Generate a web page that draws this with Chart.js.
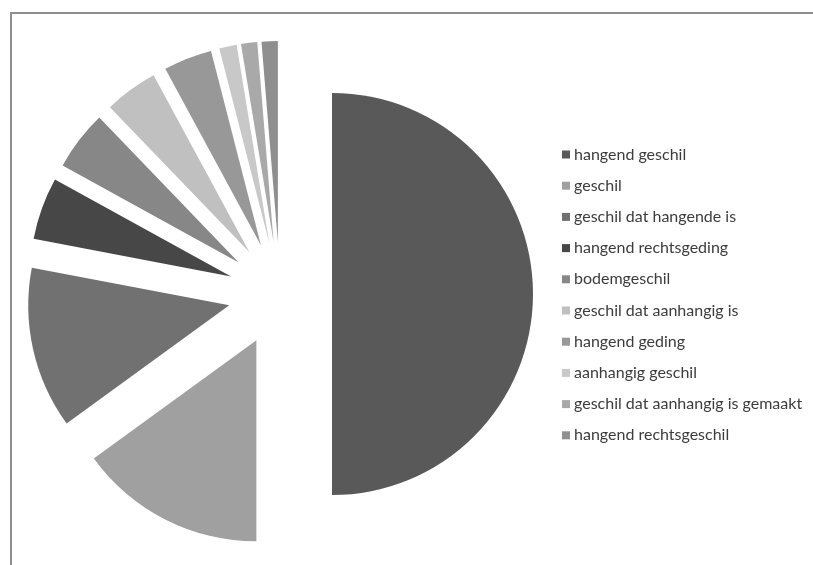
<!DOCTYPE html>
<html>
<head>
<meta charset="utf-8">
<script src="https://cdn.jsdelivr.net/npm/chart.js@4/dist/chart.umd.min.js"></script>
<style>
  html, body { margin: 0; padding: 0; background: #fff; }
  #wrap { position: relative; width: 813px; height: 565px; overflow: hidden; }
  #frame { position: absolute; left: 10px; top: 12px; width: 900px; height: 700px;
           border-left: 2px solid #8f8f8f; border-top: 2px solid #8f8f8f; }
  #chart { position: absolute; left: 0; top: 0; }
</style>
</head>
<body>
<div id="wrap">
  <div id="frame"></div>
  <canvas id="chart" width="813" height="565"></canvas>
</div>
<script>
const labels = [
    'hangend geschil',
    'geschil',
    'geschil dat hangende is',
    'hangend rechtsgeding',
    'bodemgeschil',
    'geschil dat aanhangig is',
    'hangend geding',
    'aanhangig geschil',
    'geschil dat aanhangig is gemaakt',
    'hangend rechtsgeschil'
];
const values = [50, 15, 13, 5, 4.8, 4.3, 3.9, 1.4, 1.3, 1.3];
const colors = ['#595959', '#a0a0a0', '#717171', '#474747', '#878787',
                '#c0c0c0', '#989898', '#c8c8c8', '#a9a9a9', '#8f8f8f'];

const EXPLODE = 52;

// Chart.js offset also shrinks the slice angles, so push each
// wedge out along its middle angle ourselves (Excel style explode)
const explode = {
    id: 'explode',
    beforeDatasetDraw(c, args) {
        const ctx = c.ctx;
        const meta = args.meta;
        meta.data.forEach((el) => {
            const p = el.getProps(['x', 'y', 'startAngle', 'endAngle', 'outerRadius']);
            const mid = (p.startAngle + p.endAngle) / 2;
            const cx = p.x + Math.cos(mid) * EXPLODE;
            const cy = p.y + Math.sin(mid) * EXPLODE;
            ctx.save();
            ctx.beginPath();
            ctx.moveTo(cx, cy);
            ctx.arc(cx, cy, p.outerRadius, p.startAngle, p.endAngle);
            ctx.closePath();
            ctx.fillStyle = el.options.backgroundColor;
            ctx.fill();
            ctx.restore();
        });
        return false;
    }
};

// legend drawn at fixed place on the right, like the original
const sideLegend = {
    id: 'sideLegend',
    afterDraw(c) {
        const ctx = c.ctx;
        const ds = c.data.datasets[0];
        ctx.save();
        ctx.font = '16px Lato, "Open Sans", sans-serif';
        ctx.textBaseline = 'middle';
        c.data.labels.forEach((lab, i) => {
            const y = 154.5 + i * 31.2;
            ctx.fillStyle = ds.backgroundColor[i];
            ctx.fillRect(562, y - 4, 8, 8);
            ctx.fillStyle = '#3c3c3c';
            ctx.fillText(lab, 574, y);
        });
        ctx.restore();
    }
};

const chart = document.getElementById('chart');
new Chart(chart, {
    type: 'pie',
    data: {
        labels: labels,
        datasets: [{
            data: values,
            backgroundColor: colors,
            borderWidth: 0,
        }]
    },
    options: {
        responsive: false,
        animation: false,
        radius: 201,
        layout: {
            padding: { left: 0, right: 253, top: 23, bottom: 0 }
        },
        plugins: {
            legend: { display: false },
            tooltip: { enabled: false },
        },
    },
    plugins: [explode, sideLegend]
});
</script>
</body>
</html>
